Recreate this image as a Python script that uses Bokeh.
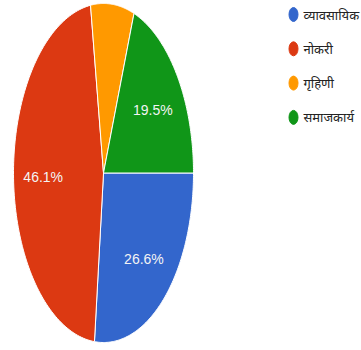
import numpy as np
from bokeh.plotting import figure
from bokeh.models import Range1d, ColumnDataSource
from bokeh.core.properties import value
from bokeh.embed import file_html
from bokeh.resources import INLINE

# ---- data ----
categories = ["व्यावसायिक", "नोकरी", "गृहिणी", "समाजकार्य"]
percent = [26.6, 46.1, 7.8, 19.5]
colors = ["#3366CC", "#DC3912", "#FF9900", "#109618"]

# ---- layout constants (pixels inside the figure) ----
W, H = 361, 350
cx, cy = 103.0, 172.5
rx, ry = 90.0, 169.5

p = figure(width=W, height=H, x_range=Range1d(0, W), y_range=Range1d(H, 0),
           output_backend="svg", toolbar_location=None, min_border=0,
           x_axis_location=None, y_axis_location=None)
p.grid.visible = False
p.outline_line_color = None
p.background_fill_color = "white"
p.border_fill_color = "white"

vals = np.array(percent, dtype=float)
fr = vals / vals.sum()
ends = np.cumsum(fr) * 2 * np.pi
starts = ends - fr * 2 * np.pi

xs, ys = [], []
for s, e in zip(starts, ends):
    t = np.linspace(s, e, 120)
    xs.append([cx] + list(cx + rx * np.cos(t)))
    ys.append([cy] + list(cy + ry * np.sin(t)))
p.patches(xs=xs, ys=ys, fill_color=colors, line_color="white", line_width=1)

mid = (starts + ends) / 2
lab_src = ColumnDataSource(dict(
    x=cx + 0.67 * rx * np.cos(mid),
    y=cy + 0.67 * ry * np.sin(mid) + 2,
    t=[f"{v:.1f}%" if v >= 10 else "" for v in percent],
))
p.text(x="x", y="y", text="t", source=lab_src, text_color="#F4F4F4",
       text_font=value("'Liberation Sans Narrow', 'Liberation Sans', Arial"),
       text_font_size="14px", text_align="center", text_baseline="middle")

# legend
idx = np.arange(len(categories))
leg_src = ColumnDataSource(dict(
    y=14 + idx * 34.3,
    name=categories,
    c=colors,
))
p.ellipse(x=293, y="y", width=9, height=14, source=leg_src,
          fill_color="c", line_color="c")
p.text(x=303, y="y", text="name", source=leg_src, text_color="#222222",
       text_font=value("'Noto Sans', sans-serif"), text_font_size="13px",
       text_align="left", text_baseline="middle")

open("out.html", "w").write(file_html(p, INLINE))
